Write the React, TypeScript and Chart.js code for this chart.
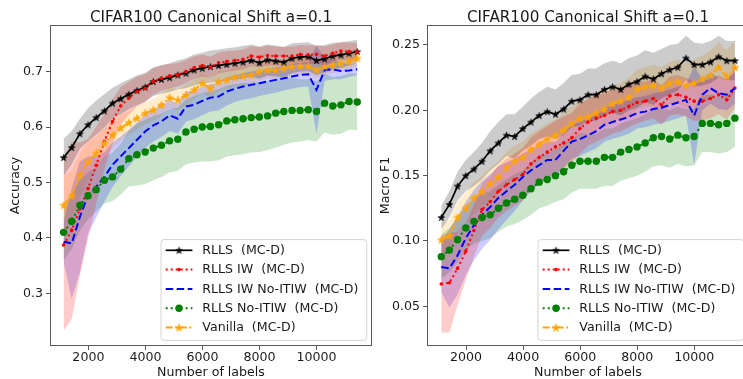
import React, { useEffect, useRef } from 'react';
import { Chart, registerables } from 'chart.js';

Chart.register(...registerables);

// ---------------- data ----------------
const NUM_LABELS = [1130, 1416, 1702, 1988, 2274, 2560, 2846, 3132, 3418, 3704, 3990, 4276, 4562, 4848, 5134, 5420, 5706, 5992, 6278, 6564, 6850, 7136, 7422, 7708, 7994, 8280, 8566, 8852, 9138, 9424, 9710, 9996, 10282, 10568, 10854, 11140, 11426];

const X_TICKS = [2000, 4000, 6000, 8000, 10000];
const ACC_TICKS = [0.3, 0.4, 0.5, 0.6, 0.7];
const F1_TICKS = [0.05, 0.1, 0.15, 0.2, 0.25];

const SERIES_NAMES = ['RLLS  (MC-D)', 'RLLS IW  (MC-D)', 'RLLS IW No-ITIW  (MC-D)', 'RLLS No-ITIW  (MC-D)', 'Vanilla  (MC-D)'];
const TITLE = 'CIFAR100 Canonical Shift a=0.1';

// Accuracy (left)
const rllsAcc = [0.545, 0.563, 0.588, 0.604, 0.617, 0.629, 0.643, 0.651, 0.659, 0.666, 0.672, 0.682, 0.686, 0.689, 0.694, 0.697, 0.703, 0.706, 0.709, 0.711, 0.713, 0.715, 0.717, 0.720, 0.716, 0.721, 0.719, 0.717, 0.724, 0.726, 0.727, 0.720, 0.723, 0.728, 0.730, 0.733, 0.736];
const rllsAccStd = [0.034, 0.030, 0.027, 0.030, 0.031, 0.030, 0.028, 0.028, 0.027, 0.027, 0.026, 0.026, 0.026, 0.026, 0.026, 0.027, 0.028, 0.028, 0.029, 0.029, 0.029, 0.029, 0.029, 0.029, 0.029, 0.028, 0.028, 0.027, 0.027, 0.026, 0.026, 0.026, 0.025, 0.024, 0.023, 0.022, 0.021];
const iwAcc = [0.387, 0.414, 0.452, 0.489, 0.531, 0.574, 0.610, 0.638, 0.652, 0.664, 0.670, 0.682, 0.688, 0.692, 0.694, 0.700, 0.707, 0.711, 0.708, 0.716, 0.718, 0.720, 0.722, 0.728, 0.726, 0.729, 0.728, 0.728, 0.728, 0.731, 0.730, 0.731, 0.728, 0.733, 0.737, 0.736, 0.735];
const iwAccStd = [0.155, 0.160, 0.120, 0.090, 0.070, 0.050, 0.040, 0.034, 0.030, 0.027, 0.025, 0.024, 0.023, 0.022, 0.021, 0.021, 0.020, 0.020, 0.019, 0.019, 0.019, 0.018, 0.018, 0.018, 0.018, 0.018, 0.017, 0.017, 0.017, 0.017, 0.017, 0.017, 0.017, 0.016, 0.016, 0.016, 0.016];
const iwNoAcc = [0.393, 0.390, 0.438, 0.477, 0.492, 0.510, 0.532, 0.547, 0.562, 0.577, 0.592, 0.603, 0.610, 0.621, 0.615, 0.637, 0.640, 0.647, 0.653, 0.655, 0.664, 0.669, 0.673, 0.676, 0.679, 0.682, 0.685, 0.688, 0.691, 0.694, 0.695, 0.667, 0.703, 0.704, 0.701, 0.702, 0.704];
const iwNoAccStd = [0.036, 0.100, 0.100, 0.070, 0.055, 0.045, 0.040, 0.036, 0.033, 0.031, 0.030, 0.029, 0.028, 0.028, 0.027, 0.027, 0.026, 0.026, 0.025, 0.025, 0.025, 0.024, 0.024, 0.024, 0.023, 0.023, 0.023, 0.022, 0.022, 0.022, 0.022, 0.080, 0.020, 0.018, 0.015, 0.012, 0.010];
const noItiwAcc = [0.410, 0.430, 0.459, 0.476, 0.487, 0.504, 0.510, 0.524, 0.543, 0.550, 0.555, 0.562, 0.567, 0.575, 0.578, 0.591, 0.596, 0.600, 0.601, 0.604, 0.611, 0.613, 0.615, 0.617, 0.618, 0.620, 0.625, 0.628, 0.630, 0.630, 0.631, 0.628, 0.643, 0.638, 0.640, 0.646, 0.645];
const noItiwAccStd = [0.050, 0.050, 0.046, 0.042, 0.040, 0.042, 0.044, 0.046, 0.050, 0.056, 0.058, 0.058, 0.057, 0.057, 0.057, 0.058, 0.060, 0.062, 0.063, 0.064, 0.064, 0.064, 0.064, 0.063, 0.063, 0.062, 0.062, 0.060, 0.058, 0.056, 0.055, 0.054, 0.053, 0.052, 0.052, 0.051, 0.051];
const vanAcc = [0.459, 0.476, 0.513, 0.538, 0.553, 0.571, 0.586, 0.598, 0.608, 0.616, 0.625, 0.631, 0.640, 0.653, 0.649, 0.658, 0.667, 0.679, 0.670, 0.682, 0.685, 0.690, 0.692, 0.694, 0.700, 0.703, 0.703, 0.706, 0.709, 0.710, 0.710, 0.703, 0.709, 0.712, 0.715, 0.718, 0.724];
const vanAccStd = [0.052, 0.046, 0.040, 0.035, 0.030, 0.028, 0.025, 0.023, 0.022, 0.021, 0.020, 0.020, 0.020, 0.019, 0.019, 0.019, 0.018, 0.018, 0.018, 0.018, 0.017, 0.017, 0.017, 0.017, 0.016, 0.016, 0.016, 0.016, 0.016, 0.015, 0.015, 0.016, 0.015, 0.015, 0.014, 0.014, 0.014];

// Macro F1 (right)
const rllsF1 = [0.118, 0.128, 0.142, 0.150, 0.155, 0.161, 0.169, 0.175, 0.181, 0.180, 0.186, 0.191, 0.196, 0.199, 0.197, 0.201, 0.207, 0.208, 0.212, 0.212, 0.216, 0.218, 0.216, 0.220, 0.222, 0.226, 0.224, 0.228, 0.231, 0.233, 0.240, 0.235, 0.235, 0.237, 0.241, 0.238, 0.238];
const rllsF1Std = [0.009, 0.010, 0.011, 0.012, 0.013, 0.014, 0.015, 0.016, 0.016, 0.017, 0.017, 0.018, 0.018, 0.019, 0.019, 0.020, 0.020, 0.020, 0.020, 0.020, 0.020, 0.020, 0.020, 0.020, 0.020, 0.020, 0.020, 0.019, 0.019, 0.018, 0.017, 0.017, 0.016, 0.016, 0.016, 0.015, 0.015];
const iwF1 = [0.067, 0.068, 0.079, 0.092, 0.108, 0.124, 0.130, 0.138, 0.143, 0.147, 0.151, 0.159, 0.164, 0.168, 0.172, 0.175, 0.179, 0.186, 0.191, 0.194, 0.196, 0.199, 0.200, 0.203, 0.206, 0.207, 0.209, 0.204, 0.211, 0.212, 0.210, 0.207, 0.207, 0.209, 0.212, 0.208, 0.217];
const iwF1Std = [0.037, 0.038, 0.028, 0.022, 0.020, 0.020, 0.020, 0.020, 0.020, 0.020, 0.020, 0.020, 0.020, 0.020, 0.020, 0.020, 0.019, 0.019, 0.018, 0.018, 0.017, 0.017, 0.016, 0.016, 0.016, 0.015, 0.015, 0.015, 0.015, 0.015, 0.015, 0.015, 0.015, 0.015, 0.015, 0.015, 0.015];
const iwNoF1 = [0.080, 0.079, 0.089, 0.102, 0.112, 0.120, 0.126, 0.133, 0.138, 0.143, 0.149, 0.154, 0.158, 0.162, 0.162, 0.169, 0.176, 0.178, 0.181, 0.184, 0.189, 0.191, 0.193, 0.195, 0.198, 0.199, 0.201, 0.202, 0.204, 0.206, 0.208, 0.196, 0.212, 0.217, 0.213, 0.212, 0.217];
const iwNoF1Std = [0.019, 0.030, 0.030, 0.028, 0.027, 0.026, 0.025, 0.024, 0.022, 0.020, 0.018, 0.016, 0.015, 0.014, 0.014, 0.013, 0.013, 0.013, 0.013, 0.013, 0.013, 0.013, 0.013, 0.013, 0.012, 0.012, 0.012, 0.012, 0.012, 0.012, 0.012, 0.038, 0.012, 0.012, 0.012, 0.012, 0.012];
const noItiwF1 = [0.088, 0.093, 0.101, 0.110, 0.115, 0.118, 0.120, 0.125, 0.129, 0.132, 0.135, 0.140, 0.145, 0.147, 0.150, 0.153, 0.158, 0.161, 0.161, 0.161, 0.164, 0.164, 0.168, 0.170, 0.172, 0.175, 0.179, 0.180, 0.178, 0.181, 0.179, 0.180, 0.190, 0.190, 0.189, 0.190, 0.194];
const noItiwF1Std = [0.017, 0.017, 0.017, 0.017, 0.017, 0.018, 0.018, 0.018, 0.018, 0.019, 0.019, 0.020, 0.020, 0.020, 0.020, 0.021, 0.021, 0.021, 0.021, 0.021, 0.022, 0.022, 0.022, 0.022, 0.022, 0.022, 0.022, 0.022, 0.022, 0.022, 0.022, 0.022, 0.022, 0.022, 0.022, 0.022, 0.022];
const vanF1 = [0.101, 0.104, 0.118, 0.125, 0.133, 0.138, 0.144, 0.149, 0.156, 0.161, 0.164, 0.170, 0.174, 0.178, 0.181, 0.185, 0.190, 0.194, 0.195, 0.198, 0.201, 0.205, 0.207, 0.210, 0.216, 0.218, 0.219, 0.217, 0.221, 0.222, 0.219, 0.221, 0.224, 0.227, 0.233, 0.226, 0.233];
const vanF1Std = [0.012, 0.012, 0.012, 0.012, 0.012, 0.012, 0.012, 0.012, 0.012, 0.012, 0.012, 0.012, 0.012, 0.012, 0.012, 0.013, 0.013, 0.013, 0.013, 0.014, 0.014, 0.014, 0.014, 0.015, 0.015, 0.015, 0.016, 0.016, 0.016, 0.017, 0.017, 0.018, 0.018, 0.019, 0.019, 0.020, 0.020];

// ---------------- styles ----------------
const FONT = '"DejaVu Sans", "Liberation Sans", sans-serif';
const TICK_SIZE = 12.6;
const TEXT_COLOR = '#1a1a1a';

type Marker = { kind: 'star' | 'circle' | 'none'; size: number };
type SeriesStyle = { color: string; band: string; width: number; dash: number[]; marker: Marker };

const STYLES: SeriesStyle[] = [
  { color: '#000000', band: 'rgba(0,0,0,0.2)', width: 1.7, dash: [], marker: { kind: 'star', size: 6.5 } },
  { color: '#ff0000', band: 'rgba(255,0,0,0.2)', width: 2, dash: [2, 3], marker: { kind: 'circle', size: 1.8 } },
  { color: '#0000ff', band: 'rgba(0,0,255,0.2)', width: 2, dash: [7.5, 3.5], marker: { kind: 'none', size: 0 } },
  { color: '#008000', band: 'rgba(0,128,0,0.2)', width: 2, dash: [2, 3], marker: { kind: 'circle', size: 3.7 } },
  { color: '#ffa500', band: 'rgba(255,165,0,0.2)', width: 1.8, dash: [7, 2.5, 2, 2.5], marker: { kind: 'star', size: 7.5 } },
];

function makeStar(size: number, color: string): HTMLCanvasElement {
  const c = document.createElement('canvas');
  c.width = Math.ceil(size + 2);
  c.height = Math.ceil(size + 2);
  const ctx = c.getContext('2d')!;
  const cx = c.width / 2;
  const cy = c.height / 2 + 0.4;
  const ro = size / 2 + 0.3;
  const ri = ro * 0.382;
  ctx.beginPath();
  for (let k = 0; k < 10; k++) {
    const r = k % 2 === 0 ? ro : ri;
    const a = -Math.PI / 2 + (k * Math.PI) / 5;
    const px = cx + r * Math.cos(a);
    const py = cy + r * Math.sin(a);
    if (k === 0) ctx.moveTo(px, py);
    else ctx.lineTo(px, py);
  }
  ctx.closePath();
  ctx.fillStyle = color;
  ctx.fill();
  ctx.lineWidth = 0.6;
  ctx.strokeStyle = color;
  ctx.stroke();
  return c;
}

function drawMarker(ctx: CanvasRenderingContext2D, s: SeriesStyle, x: number, y: number, stars: (HTMLCanvasElement | null)[], k: number) {
  if (s.marker.kind === 'star') {
    const img = stars[k]!;
    ctx.drawImage(img, x - img.width / 2, y - img.height / 2);
  } else if (s.marker.kind === 'circle') {
    ctx.beginPath();
    ctx.arc(x, y, s.marker.size, 0, Math.PI * 2);
    ctx.fillStyle = s.color;
    ctx.fill();
  }
}

type PanelSpec = {
  means: number[][];
  stds: number[][];
  yMin: number;
  yMax: number;
  xMin: number;
  xMax: number;
  yTicks: number[];
  decimals: number;
  yTitle: string;
  yTitleOffset: number;
  yAxisWidth: number;
  rightPad: number;
};

function buildConfig(spec: PanelSpec) {
  const stars = STYLES.map((s) => (s.marker.kind === 'star' ? makeStar(s.marker.size, s.color) : null));
  const datasets: any[] = [];
  // confidence bands
  spec.means.forEach((mean, k) => {
    const std = spec.stds[k];
    datasets.push({
      data: NUM_LABELS.map((x, i) => ({ x, y: mean[i] - std[i] })),
      borderColor: 'rgba(0,0,0,0)',
      borderWidth: 0,
      pointRadius: 0,
      fill: false,
      order: 100,
    });
    datasets.push({
      data: NUM_LABELS.map((x, i) => ({ x, y: mean[i] + std[i] })),
      borderColor: 'rgba(0,0,0,0)',
      borderWidth: 0,
      pointRadius: 0,
      fill: '-1',
      backgroundColor: STYLES[k].band,
      order: 100,
    });
  });
  // lines
  spec.means.forEach((mean, k) => {
    const s = STYLES[k];
    datasets.push({
      data: NUM_LABELS.map((x, i) => ({ x, y: mean[i] })),
      borderColor: s.color,
      borderWidth: s.width,
      borderDash: s.dash,
      backgroundColor: s.color,
      pointStyle: s.marker.kind === 'star' ? stars[k] : 'circle',
      pointRadius: s.marker.kind === 'none' ? 0 : s.marker.kind === 'star' ? 3 : s.marker.size,
      pointBorderWidth: 0,
      pointBackgroundColor: s.color,
      pointBorderColor: s.color,
      fill: false,
      tension: 0,
      order: 10 - k,
    });
  });

  const decorPlugin = {
    id: 'decor',
    afterDraw(chart: any) {
      const ctx: CanvasRenderingContext2D = chart.ctx;
      const ca = chart.chartArea;
      ctx.save();
      // frame
      ctx.strokeStyle = '#5a5a5a';
      ctx.lineWidth = 1;
      ctx.setLineDash([]);
      ctx.strokeRect(Math.round(ca.left) + 0.5, Math.round(ca.top) + 0.5, Math.round(ca.right - ca.left) - 1, Math.round(ca.bottom - ca.top) - 1);
      // title
      ctx.fillStyle = TEXT_COLOR;
      ctx.font = `15.2px ${FONT}`;
      ctx.textAlign = 'center';
      ctx.textBaseline = 'alphabetic';
      ctx.fillText(TITLE, (ca.left + ca.right) / 2, 21.5);
      // legend
      const w = 205.7;
      const h = 100.7;
      const x0 = ca.right - 5.3 - w;
      const y0 = ca.bottom - 5.7 - h;
      ctx.beginPath();
      const r = 3;
      ctx.moveTo(x0 + r, y0);
      ctx.lineTo(x0 + w - r, y0);
      ctx.arcTo(x0 + w, y0, x0 + w, y0 + r, r);
      ctx.lineTo(x0 + w, y0 + h - r);
      ctx.arcTo(x0 + w, y0 + h, x0 + w - r, y0 + h, r);
      ctx.lineTo(x0 + r, y0 + h);
      ctx.arcTo(x0, y0 + h, x0, y0 + h - r, r);
      ctx.lineTo(x0, y0 + r);
      ctx.arcTo(x0, y0, x0 + r, y0, r);
      ctx.closePath();
      ctx.fillStyle = 'rgba(255,255,255,0.8)';
      ctx.fill();
      ctx.strokeStyle = '#d4d4d4';
      ctx.lineWidth = 1;
      ctx.stroke();
      STYLES.forEach((s, k) => {
        const y = y0 + 10.7 + k * 19.3;
        const hx = x0 + 4.7;
        ctx.beginPath();
        ctx.setLineDash(s.dash);
        ctx.lineWidth = s.width;
        ctx.strokeStyle = s.color;
        ctx.moveTo(hx, y);
        ctx.lineTo(hx + 26.7, y);
        ctx.stroke();
        ctx.setLineDash([]);
        drawMarker(ctx, s, hx + 13.35, y, stars, k);
        ctx.fillStyle = TEXT_COLOR;
        ctx.font = `${TICK_SIZE}px ${FONT}`;
        ctx.textAlign = 'left';
        ctx.textBaseline = 'middle';
        ctx.fillText(SERIES_NAMES[k], x0 + 41.3, y + 0.5);
      });
      ctx.restore();
    },
  };

  return {
    type: 'line' as const,
    data: { datasets },
    options: {
      animation: false,
      responsive: false,
      devicePixelRatio: 1,
      layout: { padding: { left: 0, right: spec.rightPad, top: 25, bottom: 0 }, autoPadding: false },
      plugins: {
        legend: { display: false },
        tooltip: { enabled: false },
        title: { display: false },
        filler: { drawTime: 'beforeDatasetsDraw' },
      },
      scales: {
        x: {
          type: 'linear',
          min: spec.xMin,
          max: spec.xMax,
          afterBuildTicks: (axis: any) => {
            axis.ticks = X_TICKS.map((v) => ({ value: v }));
          },
          afterFit: (axis: any) => {
            axis.height = 33;
          },
          grid: { display: true, drawOnChartArea: false, drawTicks: true, tickLength: 4, tickColor: '#555', lineWidth: 1 },
          border: { display: false },
          ticks: {
            color: TEXT_COLOR,
            font: { family: FONT, size: TICK_SIZE },
            padding: 0,
            maxRotation: 0,
            autoSkip: false,
            callback: (v: any) => String(v),
          },
          title: {
            display: true,
            text: 'Number of labels',
            color: TEXT_COLOR,
            font: { family: FONT, size: TICK_SIZE, lineHeight: 1 },
            padding: { top: 0, bottom: -0.5 },
          },
        },
        y: {
          type: 'linear',
          min: spec.yMin,
          max: spec.yMax,
          afterBuildTicks: (axis: any) => {
            axis.ticks = spec.yTicks.map((v) => ({ value: v }));
          },
          afterFit: (axis: any) => {
            axis.width = spec.yAxisWidth;
          },
          grid: { display: true, drawOnChartArea: false, drawTicks: true, tickLength: 4, tickColor: '#555', lineWidth: 1 },
          border: { display: false },
          ticks: {
            color: TEXT_COLOR,
            font: { family: FONT, size: TICK_SIZE },
            padding: 3,
            autoSkip: false,
            callback: (v: any) => Number(v).toFixed(spec.decimals),
          },
          title: {
            display: true,
            text: spec.yTitle,
            color: TEXT_COLOR,
            font: { family: FONT, size: TICK_SIZE, lineHeight: 1 },
            padding: { top: spec.yTitleOffset, bottom: 0 },
          },
        },
      },
    },
    plugins: [decorPlugin],
  };
}

const LEFT_SPEC: PanelSpec = {
  means: [rllsAcc, iwAcc, iwNoAcc, noItiwAcc, vanAcc],
  stds: [rllsAccStd, iwAccStd, iwNoAccStd, noItiwAccStd, vanAccStd],
  yMin: 0.205,
  yMax: 0.784,
  xMin: 654,
  xMax: 11943,
  yTicks: ACC_TICKS,
  decimals: 1,
  yTitle: 'Accuracy',
  yTitleOffset: 9,
  yAxisWidth: 50,
  rightPad: 8,
};

const RIGHT_SPEC: PanelSpec = {
  means: [rllsF1, iwF1, iwNoF1, noItiwF1, vanF1],
  stds: [rllsF1Std, iwF1Std, iwNoF1Std, noItiwF1Std, vanF1Std],
  yMin: 0.0196,
  yMax: 0.2653,
  xMin: 630,
  xMax: 11919,
  yTicks: F1_TICKS,
  decimals: 2,
  yTitle: 'Macro F1',
  yTitleOffset: -1,
  yAxisWidth: 47,
  rightPad: 11,
};

function Panel({ spec, left }: { spec: PanelSpec; left: number }) {
  const ref = useRef<HTMLCanvasElement | null>(null);
  useEffect(() => {
    if (!ref.current) return;
    const chart = new Chart(ref.current, buildConfig(spec) as any);
    return () => chart.destroy();
  }, [spec]);
  return (
    <canvas
      ref={ref}
      width={380}
      height={379}
      style={{ position: 'absolute', left, top: 0, width: 380, height: 379 }}
    />
  );
}

export default function App() {
  return (
    <div
      style={{
        position: 'absolute',
        left: 0,
        top: 0,
        width: 743,
        height: 379,
        overflow: 'hidden',
        background: '#ffffff',
      }}
    >
      <Panel spec={LEFT_SPEC} left={0} />
      <Panel spec={RIGHT_SPEC} left={380} />
    </div>
  );
}
